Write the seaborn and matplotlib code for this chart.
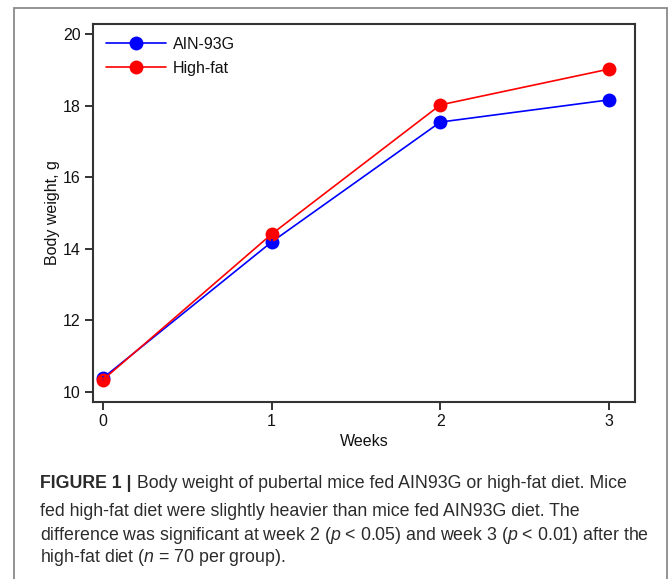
import matplotlib
matplotlib.use("Agg")
import matplotlib.pyplot as plt
import seaborn as sns
import pandas as pd
from matplotlib.patches import Rectangle

weeks = [0, 1, 2, 3]
ain93g = [10.39, 14.19, 17.54, 18.16]
ain93g_err = [0.07, 0.08, 0.08, 0.10]
highfat = [10.34, 14.41, 18.02, 19.02]
highfat_err = [0.07, 0.08, 0.08, 0.15]
groups = ["AIN-93G", "High-fat"]
colors = {"AIN-93G": "#0000ff", "High-fat": "#ff0000"}
yticks = [10, 12, 14, 16, 18, 20]

df = pd.DataFrame({
    "Weeks": weeks * 2,
    "Body weight, g": ain93g + highfat,
    "err": ain93g_err + highfat_err,
    "Group": [groups[0]] * 4 + [groups[1]] * 4,
})

sns.set_theme(style="ticks")
plt.rcParams["font.family"] = ["Liberation Sans", "DejaVu Sans"]
plt.rcParams["mathtext.fontset"] = "custom"
plt.rcParams["mathtext.rm"] = "Liberation Sans"
plt.rcParams["mathtext.it"] = "Liberation Sans:italic"

W, H = 669, 579
fig = plt.figure(figsize=(W / 100, H / 100), dpi=100)
ax = fig.add_axes([93 / W, 1 - 402 / H, (635 - 93) / W, (402 - 24) / H])

sns.lineplot(data=df, x="Weeks", y="Body weight, g", hue="Group", palette=colors,
             marker="o", markersize=10, markeredgewidth=0, linewidth=1.2,
             errorbar=None, ax=ax)
for g in groups:
    sub = df[df["Group"] == g]
    ax.errorbar(sub["Weeks"], sub["Body weight, g"], yerr=sub["err"], fmt="none",
                ecolor=colors[g], elinewidth=1.2, capsize=0)

ax.set_xlim(-0.059, 3.154)
ax.set_ylim(9.72, 20.28)
ax.set_xticks(weeks)
ax.set_yticks(yticks)
ax.set_xlabel("Weeks", fontsize=11.5, color="#111111", labelpad=3)
ax.set_ylabel("Body weight, g", fontsize=11.5, color="#111111", labelpad=2)
ax.tick_params(axis="both", direction="out", length=6, width=1.2, labelsize=11.5,
               colors="#111111", pad=3)
for s in ax.spines.values():
    s.set_visible(True)
    s.set_linewidth(1.5)
    s.set_color("#333333")

leg = ax.legend(loc="upper left", frameon=False, fontsize=11.5, handlelength=3.8,
                handletextpad=0.4, labelspacing=0.55, borderaxespad=0.4,
                bbox_to_anchor=(0.0, 1.0))
for t in leg.get_texts():
    t.set_color("#111111")

# outer frame
fig.patches.append(Rectangle((14 / W, -0.05), (667 - 14) / W, 1.05 - 8 / H,
                             transform=fig.transFigure, fill=False,
                             edgecolor="#8a8a8a", linewidth=1.3))

# caption
cap_color = "#2b2b2b"
fs = 12.8
x0 = 40 / W
lines = [
    " Body weight of pubertal mice fed AIN93G or high-fat diet. Mice",
    "fed high-fat diet were slightly heavier than mice fed AIN93G diet. The",
    r"difference was significant at week 2 ($p$ < 0.05) and week 3 ($p$ < 0.01) after the",
    r"high-fat diet ($n$ = 70 per group).",
]
ys = [484, 511, 536, 558]
bold = fig.text(x0, 1 - ys[0] / H, "FIGURE 1 |", fontsize=fs, fontweight="bold",
                color=cap_color, va="center", ha="left")
fig.canvas.draw()
bb = bold.get_window_extent(renderer=fig.canvas.get_renderer())
fig.text(bb.x1 / W, 1 - ys[0] / H, lines[0], fontsize=fs, color=cap_color,
         va="center", ha="left")
for ln, yy in zip(lines[1:], ys[1:]):
    fig.text(x0, 1 - yy / H, ln, fontsize=fs, color=cap_color, va="center", ha="left")

fig.savefig("out.png", dpi=100)
